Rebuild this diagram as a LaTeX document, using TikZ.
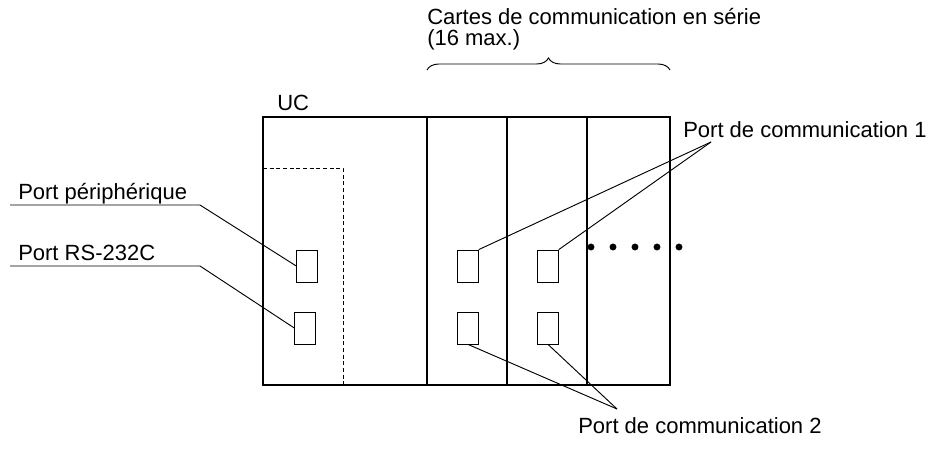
\documentclass[tikz,border=0pt]{standalone}
\usepackage{fontspec}
\setmainfont{Liberation Sans}
\usetikzlibrary{decorations.pathreplacing}
\begin{document}
\begin{tikzpicture}[x=0.75pt,y=-0.75pt,
  lbl/.style={inner sep=0pt,anchor=base west,font=\fontsize{16.5}{18}\selectfont},
  port/.style={draw,line width=0.6pt,minimum width=15.5pt,minimum height=24pt,inner sep=0pt},
  thin/.style={line width=0.7pt}]
\useasboundingbox (0,0) rectangle (940,465);
% box
\draw[line width=0.9pt] (263,117) rectangle (670,385);
\draw[line width=1.2pt] (427,117) -- (427,385);
\draw[line width=0.9pt] (507,117) -- (507,385);
\draw[line width=1.2pt] (587,117) -- (587,385);
\draw[dashed,line width=0.7pt,dash pattern=on 3pt off 2pt] (263,168) -- (343,168) -- (343,385);
% ports
\node[port] (u1) at (307,266) {};
\node[port] (u2) at (305,328) {};
\node[port] (a1) at (468,266) {};
\node[port] (a2) at (468,328) {};
\node[port] (b1) at (548,266) {};
\node[port] (b2) at (548,328) {};
% dots
\foreach \x in {591,613,635,657,679} \fill (\x,247) circle (2.6pt);
% labels
\node[lbl] (uc) at (277,110) {UC};
\node[lbl] (cartes) at (427,24) {Cartes de communication en série};
\node[lbl] (max) at (427,45) {(16 max.)};
\node[lbl] (pp) at (18,199) {Port périphérique};
\node[lbl] (rs) at (18,260) {Port RS-232C};
\node[lbl] (pc1) at (683,137) {Port de communication 1};
\node[lbl] (pc2) at (578,433) {Port de communication 2};
% brace
\draw[thin,decorate,decoration={brace,amplitude=9pt}] (427,70) -- (670,70);
% leaders
\coordinate (p1) at (200,205);
\coordinate (p2) at (200,266);
\coordinate (c1) at (711,142);
\coordinate (c2) at (617,409);
\draw[thin] (10,205) -- (p1) -- (u1.west);
\draw[thin] (10,266) -- (p2) -- (u2.west);
\draw[thin] (c1) -- (a1.north east);
\draw[thin] (c1) -- (b1.north east);
\draw[thin] (c2) -- (a2.south);
\draw[thin] (c2) -- (b2.south);
\end{tikzpicture}
\end{document}
